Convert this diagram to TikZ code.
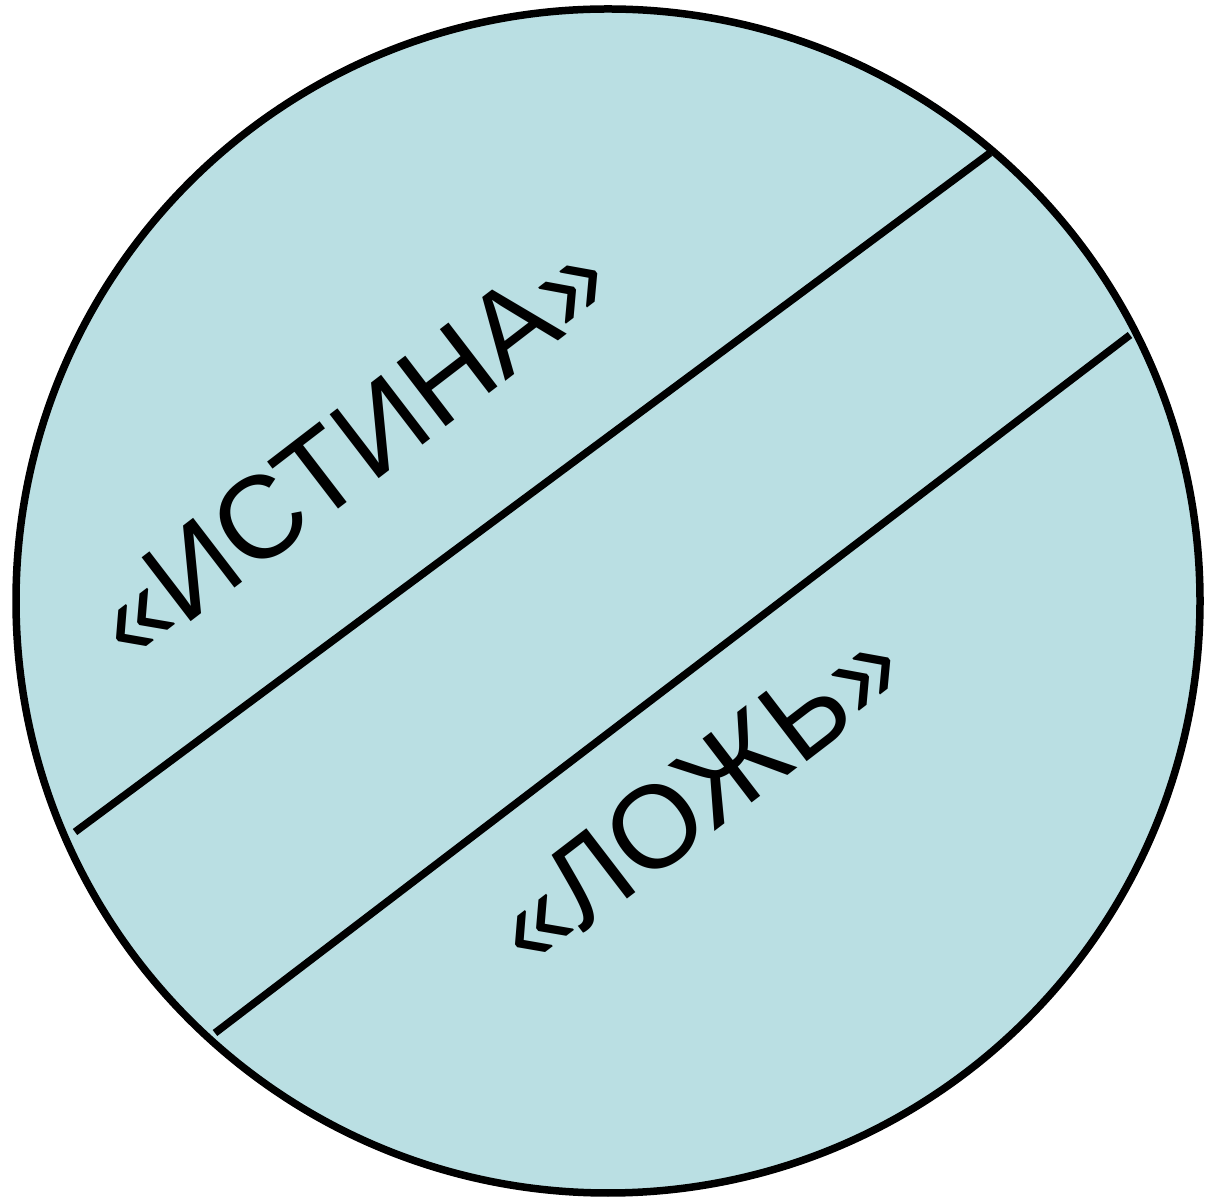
\documentclass[tikz,border=0pt]{standalone}
\usepackage{fontspec}
\setmainfont{Liberation Sans}
\definecolor{disc}{RGB}{186,223,227}
\tikzset{
  lbl/.style={font=\fontsize{117}{124}\selectfont, rotate=37.5, inner sep=0pt},
  edge/.style={line width=7.5pt, black}
}
\begin{document}
\begin{tikzpicture}[x=1pt,y=1pt]
\useasboundingbox (0,0) rectangle (1205,1197);
\node[circle, draw, line width=7.5pt, fill=disc, minimum size=1184pt, inner sep=0pt] (c) at (608,596) {};
\coordinate (a1) at (75,365);
\coordinate (b1) at (990,1044);
\coordinate (a2) at (215,164);
\coordinate (b2) at (1130,862);
\draw[edge] (a1) -- (b1);
\draw[edge] (a2) -- (b2);
\node[lbl] (t1) at (351,748) {«ИСТИНА»};
\node[lbl] (t2) at (697,402) {«ЛОЖЬ»};
\end{tikzpicture}
\end{document}
